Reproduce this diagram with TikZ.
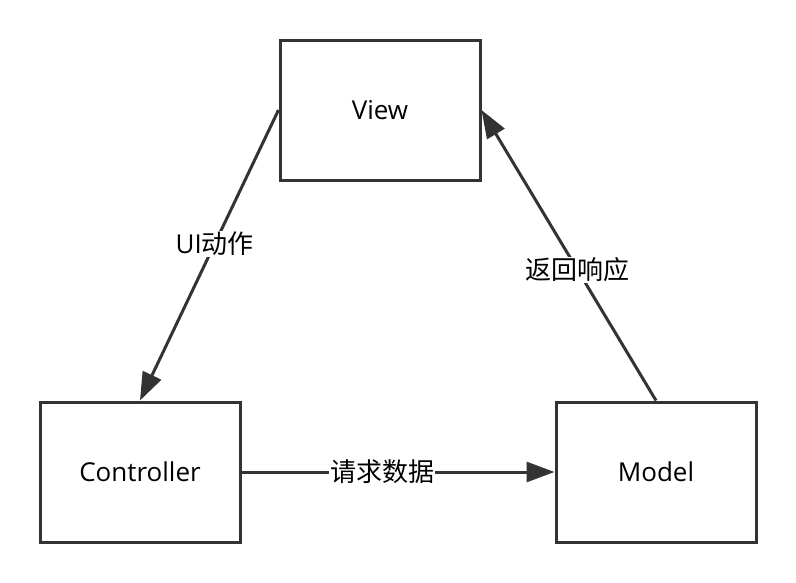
\documentclass[tikz,border=0pt]{standalone}
\usepackage{fontspec}
\setmainfont{Open Sans}
\newfontfamily\cjk{Noto Sans CJK SC}
\usepackage{tikz}
\usetikzlibrary{arrows.meta, positioning}
\definecolor{ink}{HTML}{333333}

\begin{document}
\begin{tikzpicture}[x=1pt, y=-1pt,
    block/.style={draw=ink, line width=3pt, minimum width=200pt, minimum height=140pt, font=\fontsize{26}{30}\selectfont},
    flow/.style={draw=ink, line width=3pt, -{Triangle[length=28pt, width=20pt]}},
    lbl/.style={fill=white, inner sep=1pt, font=\fontsize{26}{30}\selectfont\cjk}]
    \useasboundingbox (0,0) rectangle (796,582);

    \node[block] (view) at (380,110) {View};
    \node[block] (ctrl) at (140,472) {Controller};
    \node[block] (model) at (656,472) {Model};

    \path
    (view.west) edge[flow] node[lbl, pos=0.46] {\fontspec{Open Sans}UI\cjk 动作} (ctrl.north)
    (model.north) edge[flow] node[lbl, pos=0.45] {返回响应} (view.east)
    (ctrl.east) edge[flow] node[lbl, pos=0.45] {请求数据} (model.west);
\end{tikzpicture}
\end{document}
